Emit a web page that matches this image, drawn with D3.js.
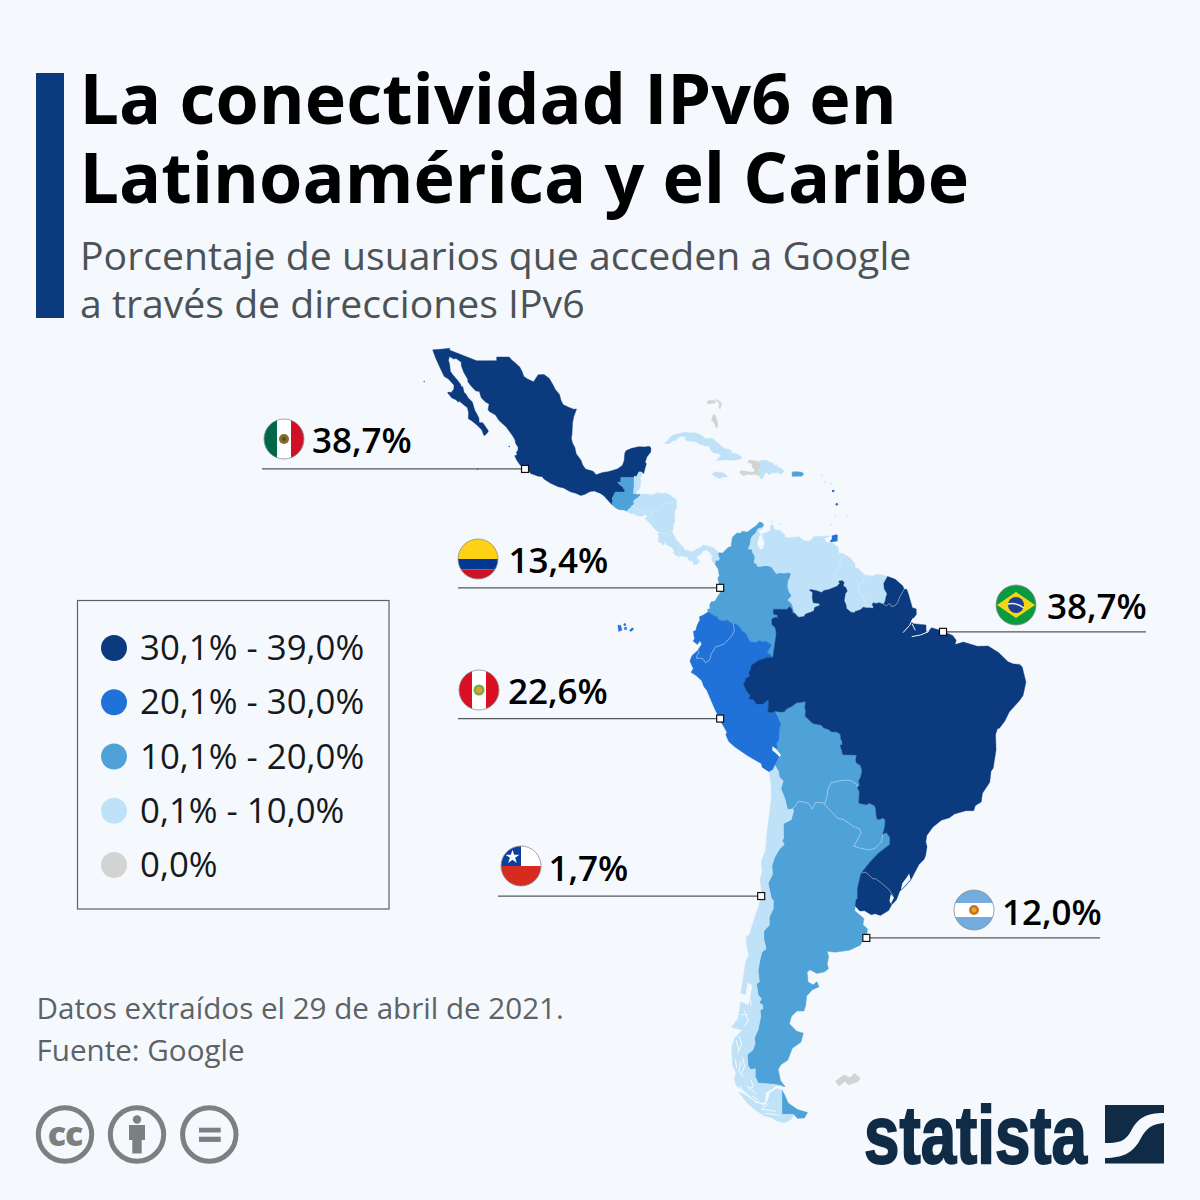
<!DOCTYPE html>
<html><head><meta charset="utf-8">
<script src="https://cdn.jsdelivr.net/npm/d3@7"></script>
<style>
html,body{margin:0;padding:0;background:#f5f9fd}
svg{display:block}
text{font-family:"Open Sans",sans-serif}
</style></head><body><svg id="c" width="1200" height="1200"></svg>
<script>
// ---- legend ----
const binLabels=["30,1% - 39,0%","20,1% - 30,0%","10,1% - 20,0%","0,1% - 10,0%","0,0%"];
const binColors=["#0b3a7e","#2172d8","#4fa2d8","#bfe2f8","#d3d3d3"];
// ---- callouts ----
const calloutNames=["México","Colombia","Perú","Chile","Argentina","Brasil"];
const calloutValues=["38,7%","13,4%","22,6%","1,7%","12,0%","38,7%"];
const calloutLon=[-104.3,-77.2,-77.2,-71.5,-56.9,-46.25];
const calloutLat=[18.85,4.35,-11.85,-32.8,-37.4,-1.1];
// ---- geography: lon/lat outlines ----
const mexico=[[-97.14,25.87],[-97.53,24.99],[-97.70,24.27],[-97.78,22.93],[-97.87,22.44],[-97.70,21.90],[-97.39,21.41],[-97.19,20.64],[-96.53,19.89],[-96.29,19.32],[-95.90,18.83],[-94.84,18.56],[-94.43,18.14],[-93.55,18.42],[-92.79,18.52],[-92.04,18.70],[-91.41,18.88],[-90.77,19.28],[-90.53,19.87],[-90.45,20.71],[-90.28,21.00],[-89.60,21.26],[-88.54,21.49],[-87.66,21.46],[-87.05,21.54],[-86.81,21.33],[-86.85,20.85],[-87.38,20.26],[-87.62,19.65],[-87.44,19.47],[-87.59,19.04],[-87.84,18.26],[-88.09,18.52],[-88.30,18.50],[-88.49,18.49],[-88.85,17.88],[-89.03,18.00],[-89.15,17.96],[-89.14,17.81],[-90.07,17.82],[-91.00,17.82],[-91.00,17.25],[-91.45,17.25],[-91.08,16.92],[-90.71,16.69],[-90.60,16.47],[-90.44,16.41],[-90.46,16.07],[-91.75,16.07],[-92.23,15.25],[-92.09,15.06],[-92.20,14.83],[-92.23,14.54],[-93.36,15.62],[-93.88,15.94],[-94.69,16.20],[-95.25,16.13],[-96.05,15.77],[-96.56,15.65],[-97.26,15.92],[-98.01,16.11],[-98.95,16.57],[-99.70,16.71],[-100.83,17.17],[-101.67,17.65],[-101.92,17.92],[-102.48,17.98],[-103.50,18.29],[-103.92,18.75],[-104.99,19.32],[-105.49,19.95],[-105.73,20.43],[-105.40,20.53],[-105.50,20.82],[-105.27,21.08],[-105.27,21.42],[-105.60,21.87],[-105.69,22.27],[-106.03,22.77],[-106.91,23.77],[-107.92,24.55],[-108.40,25.17],[-109.26,25.58],[-109.44,25.82],[-109.29,26.44],[-109.80,26.68],[-110.39,27.16],[-110.64,27.86],[-111.18,27.94],[-111.76,28.47],[-112.23,28.95],[-112.27,29.27],[-112.81,30.02],[-113.16,30.79],[-113.15,31.17],[-113.87,31.57],[-114.21,31.52],[-114.78,31.80],[-114.94,31.39],[-114.77,30.91],[-114.67,30.16],[-114.33,29.75],[-113.59,29.06],[-113.42,28.83],[-113.27,28.75],[-113.14,28.41],[-112.96,28.43],[-112.76,27.78],[-112.46,27.53],[-112.24,27.17],[-111.62,26.66],[-111.28,25.73],[-110.99,25.29],[-110.71,24.83],[-110.66,24.30],[-110.17,24.27],[-109.77,23.81],[-109.41,23.36],[-109.43,23.19],[-109.85,22.82],[-110.03,22.82],[-110.30,23.43],[-110.95,24.00],[-111.67,24.48],[-112.18,24.74],[-112.15,25.47],[-112.30,26.01],[-112.78,26.32],[-113.46,26.77],[-113.60,26.64],[-113.85,26.90],[-114.47,27.14],[-115.06,27.72],[-114.98,27.80],[-114.57,27.74],[-114.20,28.12],[-114.16,28.57],[-114.93,29.28],[-115.52,29.56],[-115.89,30.18],[-116.26,30.84],[-116.72,31.64],[-117.13,32.54],[-115.99,32.61],[-114.72,32.72],[-114.82,32.53],[-113.30,32.04],[-111.02,31.33],[-109.04,31.34],[-108.24,31.34],[-108.24,31.75],[-106.51,31.75],[-106.14,31.40],[-105.63,31.08],[-105.04,30.64],[-104.71,30.12],[-104.46,29.57],[-103.94,29.27],[-103.11,28.97],[-102.48,29.76],[-101.66,29.78],[-100.96,29.38],[-100.46,28.70],[-100.11,28.11],[-99.52,27.54],[-99.30,26.84],[-99.02,26.37],[-98.24,26.06],[-97.53,25.84],[-97.14,25.87]];
const guatemala=[[-90.10,13.74],[-90.61,13.91],[-91.23,13.93],[-91.69,14.13],[-92.23,14.54],[-92.20,14.83],[-92.09,15.06],[-92.23,15.25],[-91.75,16.07],[-90.46,16.07],[-90.44,16.41],[-90.60,16.47],[-90.71,16.69],[-91.08,16.92],[-91.45,17.25],[-91.00,17.25],[-91.00,17.82],[-90.07,17.82],[-89.14,17.81],[-89.15,17.02],[-89.23,15.89],[-88.93,15.89],[-88.60,15.71],[-88.52,15.86],[-88.23,15.73],[-88.68,15.35],[-89.15,15.07],[-89.23,14.87],[-89.15,14.68],[-89.35,14.42],[-89.59,14.36],[-89.53,14.24],[-89.72,14.13],[-90.06,13.88],[-90.10,13.74]];
const belize=[[-89.14,17.81],[-89.15,17.96],[-89.03,18.00],[-88.85,17.88],[-88.49,18.49],[-88.30,18.50],[-88.30,18.35],[-88.11,18.35],[-88.12,18.08],[-88.29,17.64],[-88.20,17.49],[-88.30,17.13],[-88.24,17.04],[-88.36,16.53],[-88.55,16.27],[-88.73,16.23],[-88.93,15.89],[-89.23,15.89],[-89.15,17.02],[-89.14,17.81]];
const honduras=[[-87.32,12.98],[-87.49,13.30],[-87.79,13.38],[-87.72,13.79],[-87.86,13.89],[-88.07,13.96],[-88.50,13.85],[-88.54,13.98],[-88.84,14.14],[-89.06,14.34],[-89.35,14.42],[-89.15,14.68],[-89.23,14.87],[-89.15,15.07],[-88.68,15.35],[-88.23,15.73],[-88.12,15.69],[-87.90,15.86],[-87.62,15.88],[-87.52,15.80],[-87.37,15.85],[-86.90,15.76],[-86.44,15.78],[-86.12,15.89],[-86.00,16.01],[-85.68,15.95],[-85.44,15.89],[-85.18,15.91],[-84.98,16.00],[-84.53,15.86],[-84.37,15.84],[-84.06,15.65],[-83.77,15.42],[-83.41,15.27],[-83.15,15.00],[-83.49,15.02],[-83.63,14.88],[-83.98,14.75],[-84.23,14.75],[-84.45,14.62],[-84.65,14.67],[-84.82,14.82],[-84.92,14.79],[-85.05,14.55],[-85.15,14.56],[-85.17,14.35],[-85.51,14.08],[-85.70,13.96],[-85.80,13.84],[-86.10,14.04],[-86.31,13.77],[-86.52,13.78],[-86.76,13.75],[-86.73,13.26],[-86.88,13.25],[-87.01,13.03],[-87.32,12.98]];
const salvador=[[-89.35,14.42],[-89.06,14.34],[-88.84,14.14],[-88.54,13.98],[-88.50,13.85],[-88.07,13.96],[-87.86,13.89],[-87.72,13.79],[-87.79,13.38],[-87.90,13.15],[-88.48,13.16],[-88.84,13.26],[-89.26,13.46],[-89.81,13.52],[-90.10,13.74],[-90.06,13.88],[-89.72,14.13],[-89.53,14.24],[-89.59,14.36],[-89.35,14.42]];
const nicaragua=[[-85.71,11.09],[-86.06,11.40],[-86.53,11.81],[-86.75,12.14],[-87.17,12.46],[-87.67,12.91],[-87.56,13.06],[-87.39,12.91],[-87.32,12.98],[-87.01,13.03],[-86.88,13.25],[-86.73,13.26],[-86.76,13.75],[-86.52,13.78],[-86.31,13.77],[-86.10,14.04],[-85.80,13.84],[-85.70,13.96],[-85.51,14.08],[-85.17,14.35],[-85.15,14.56],[-85.05,14.55],[-84.92,14.79],[-84.82,14.82],[-84.65,14.67],[-84.45,14.62],[-84.23,14.75],[-83.98,14.75],[-83.63,14.88],[-83.49,15.02],[-83.15,15.00],[-83.23,14.90],[-83.28,14.68],[-83.18,14.31],[-83.41,13.97],[-83.52,13.57],[-83.55,13.13],[-83.50,12.87],[-83.47,12.42],[-83.63,12.32],[-83.72,11.89],[-83.65,11.63],[-83.86,11.37],[-83.81,11.10],[-83.66,10.94],[-83.90,10.73],[-84.19,10.79],[-84.36,11.00],[-84.67,11.08],[-84.90,10.95],[-85.56,11.22],[-85.71,11.09]];
const costaRica=[[-82.97,8.23],[-83.51,8.45],[-83.71,8.66],[-83.60,8.83],[-83.63,9.05],[-83.91,9.29],[-84.30,9.49],[-84.65,9.62],[-84.71,9.91],[-84.98,10.09],[-84.91,9.80],[-85.11,9.56],[-85.34,9.83],[-85.66,9.93],[-85.80,10.13],[-85.79,10.44],[-85.66,10.75],[-85.94,10.90],[-85.71,11.09],[-85.56,11.22],[-84.90,10.95],[-84.67,11.08],[-84.36,11.00],[-84.19,10.79],[-83.90,10.73],[-83.66,10.94],[-83.40,10.40],[-83.02,9.99],[-82.55,9.57],[-82.93,9.48],[-82.93,9.07],[-82.72,8.93],[-82.87,8.81],[-82.83,8.63],[-82.91,8.42],[-82.97,8.23]];
const panama=[[-77.35,8.67],[-77.47,8.52],[-77.24,7.94],[-77.43,7.64],[-77.75,7.71],[-77.88,7.22],[-78.21,7.51],[-78.43,8.05],[-78.18,8.32],[-78.44,8.39],[-78.62,8.72],[-79.12,9.00],[-79.56,8.93],[-79.76,8.58],[-80.16,8.33],[-80.38,8.30],[-80.48,8.09],[-80.00,7.55],[-80.28,7.42],[-80.42,7.27],[-80.89,7.22],[-81.06,7.82],[-81.19,7.65],[-81.52,7.71],[-81.72,8.11],[-82.13,8.18],[-82.39,8.29],[-82.82,8.29],[-82.85,8.07],[-82.97,8.23],[-82.91,8.42],[-82.83,8.63],[-82.87,8.81],[-82.72,8.93],[-82.93,9.07],[-82.93,9.48],[-82.55,9.57],[-82.19,9.21],[-82.21,9.00],[-81.81,8.95],[-81.71,9.03],[-81.44,8.79],[-80.95,8.86],[-80.52,9.11],[-79.91,9.31],[-79.57,9.61],[-79.02,9.55],[-79.06,9.45],[-78.50,9.42],[-78.06,9.25],[-77.73,8.95],[-77.35,8.67]];
const colombia=[[-75.37,-0.15],[-75.80,0.08],[-76.29,0.42],[-76.58,0.26],[-77.42,0.40],[-77.67,0.83],[-77.86,0.81],[-78.86,1.38],[-78.99,1.69],[-78.62,1.77],[-78.66,2.27],[-78.43,2.63],[-77.93,2.70],[-77.51,3.33],[-77.13,3.85],[-77.50,4.09],[-77.31,4.67],[-77.53,5.58],[-77.32,5.85],[-77.48,6.69],[-77.88,7.22],[-77.75,7.71],[-77.43,7.64],[-77.24,7.94],[-77.47,8.52],[-77.35,8.67],[-76.84,8.64],[-76.09,9.34],[-75.67,9.44],[-75.66,9.77],[-75.48,10.62],[-74.91,11.08],[-74.28,11.10],[-74.20,11.31],[-73.41,11.23],[-72.63,11.73],[-72.24,11.96],[-71.75,12.44],[-71.40,12.38],[-71.14,12.11],[-71.33,11.78],[-71.97,11.61],[-72.23,11.11],[-72.61,10.82],[-72.91,10.45],[-73.03,9.74],[-73.30,9.15],[-72.79,9.09],[-72.66,8.63],[-72.44,8.41],[-72.36,8.00],[-72.48,7.63],[-72.44,7.42],[-72.20,7.34],[-71.96,6.99],[-70.67,7.09],[-70.09,6.96],[-69.39,6.10],[-68.99,6.21],[-68.27,6.15],[-67.70,6.27],[-67.34,6.10],[-67.52,5.56],[-67.74,5.22],[-67.82,4.50],[-67.62,3.84],[-67.34,3.54],[-67.30,3.32],[-67.81,2.82],[-67.45,2.60],[-67.18,2.25],[-66.88,1.25],[-67.07,1.13],[-67.26,1.72],[-67.54,2.04],[-67.87,1.69],[-69.82,1.71],[-69.80,1.09],[-69.22,0.99],[-69.25,0.60],[-69.45,0.71],[-70.02,0.54],[-70.02,-0.19],[-69.58,-0.55],[-69.42,-1.12],[-69.44,-1.56],[-69.89,-4.30],[-70.39,-3.77],[-70.69,-3.74],[-70.05,-2.73],[-70.81,-2.26],[-71.41,-2.34],[-71.77,-2.17],[-72.33,-2.43],[-73.07,-2.31],[-73.66,-1.26],[-74.12,-1.00],[-74.44,-0.53],[-75.11,-0.06],[-75.37,-0.15]];
const venezuela=[[-71.33,11.78],[-71.36,11.54],[-71.95,11.42],[-71.62,10.97],[-71.63,10.45],[-72.07,9.87],[-71.70,9.07],[-71.26,9.14],[-71.04,9.86],[-71.35,10.21],[-71.40,10.97],[-70.16,11.38],[-70.29,11.85],[-69.94,12.16],[-69.58,11.46],[-68.88,11.44],[-68.23,10.89],[-68.19,10.55],[-67.30,10.55],[-66.23,10.65],[-65.66,10.20],[-64.89,10.08],[-64.33,10.39],[-64.32,10.64],[-63.08,10.70],[-61.88,10.72],[-62.73,10.42],[-62.39,9.95],[-61.59,9.87],[-60.83,9.38],[-60.67,8.58],[-60.15,8.60],[-59.76,8.37],[-60.55,7.78],[-60.64,7.42],[-60.30,7.04],[-60.54,6.86],[-61.16,6.70],[-61.14,6.23],[-61.41,5.96],[-60.73,5.20],[-60.60,4.92],[-60.97,4.54],[-62.09,4.16],[-62.80,4.01],[-63.09,3.77],[-63.89,4.02],[-64.63,4.15],[-64.82,4.06],[-64.37,3.80],[-64.41,3.13],[-64.27,2.50],[-63.42,2.41],[-63.37,2.20],[-64.08,1.92],[-64.20,1.49],[-64.61,1.33],[-65.35,1.10],[-65.55,0.79],[-66.33,0.72],[-66.88,1.25],[-67.18,2.25],[-67.45,2.60],[-67.81,2.82],[-67.30,3.32],[-67.34,3.54],[-67.62,3.84],[-67.82,4.50],[-67.74,5.22],[-67.52,5.56],[-67.34,6.10],[-67.70,6.27],[-68.27,6.15],[-68.99,6.21],[-69.39,6.10],[-70.09,6.96],[-70.67,7.09],[-71.96,6.99],[-72.20,7.34],[-72.44,7.42],[-72.48,7.63],[-72.36,8.00],[-72.44,8.41],[-72.66,8.63],[-72.79,9.09],[-73.30,9.15],[-73.03,9.74],[-72.91,10.45],[-72.61,10.82],[-72.23,11.11],[-71.97,11.61],[-71.33,11.78]];
const guyana=[[-59.76,8.37],[-59.10,8.00],[-58.48,7.35],[-58.45,6.83],[-58.08,6.81],[-57.54,6.32],[-57.15,5.97],[-57.31,5.07],[-57.91,4.81],[-57.86,4.58],[-58.04,4.06],[-57.60,3.33],[-57.28,3.33],[-57.15,2.77],[-56.54,1.90],[-56.78,1.86],[-57.34,1.95],[-57.66,1.68],[-58.11,1.51],[-58.43,1.46],[-58.54,1.27],[-59.03,1.32],[-59.65,1.79],[-59.72,2.25],[-59.97,2.76],[-59.82,3.61],[-59.54,3.96],[-59.77,4.42],[-60.11,4.57],[-59.98,5.01],[-60.21,5.24],[-60.73,5.20],[-61.41,5.96],[-61.14,6.23],[-61.16,6.70],[-60.54,6.86],[-60.30,7.04],[-60.64,7.42],[-60.55,7.78],[-59.76,8.37]];
const suriname=[[-57.15,5.97],[-55.95,5.77],[-55.84,5.95],[-55.03,6.03],[-53.96,5.76],[-54.48,4.90],[-54.40,4.21],[-54.01,3.62],[-54.18,3.19],[-54.27,2.73],[-54.52,2.31],[-55.10,2.52],[-55.57,2.42],[-55.97,2.51],[-56.07,2.22],[-55.91,2.02],[-56.00,1.82],[-56.54,1.90],[-57.15,2.77],[-57.28,3.33],[-57.60,3.33],[-58.04,4.06],[-57.86,4.58],[-57.91,4.81],[-57.31,5.07],[-57.15,5.97]];
const frenchGuiana=[[-52.56,2.50],[-52.94,2.12],[-53.42,2.05],[-53.55,2.33],[-53.78,2.38],[-54.09,2.11],[-54.52,2.31],[-54.27,2.73],[-54.18,3.19],[-54.01,3.62],[-54.40,4.21],[-54.48,4.90],[-53.96,5.76],[-53.62,5.65],[-52.88,5.41],[-51.82,4.57],[-51.66,4.16],[-52.25,3.24],[-52.56,2.50]];
const ecuador=[[-80.30,-3.40],[-79.77,-2.66],[-79.99,-2.22],[-80.37,-2.69],[-80.97,-2.25],[-80.76,-1.97],[-80.93,-1.06],[-80.58,-0.91],[-80.40,-0.28],[-80.02,0.36],[-80.09,0.77],[-79.54,0.98],[-78.86,1.38],[-77.86,0.81],[-77.67,0.83],[-77.42,0.40],[-76.58,0.26],[-76.29,0.42],[-75.80,0.08],[-75.37,-0.15],[-75.23,-0.91],[-75.54,-1.56],[-76.64,-2.61],[-77.84,-3.00],[-78.45,-3.87],[-78.64,-4.55],[-79.21,-4.96],[-79.62,-4.45],[-80.03,-4.35],[-80.44,-4.43],[-80.47,-4.06],[-80.18,-3.82],[-80.30,-3.40]];
const peru=[[-69.59,-17.58],[-69.86,-18.09],[-70.37,-18.35],[-71.38,-17.77],[-71.46,-17.36],[-73.44,-16.36],[-75.24,-15.27],[-76.01,-14.65],[-76.42,-13.82],[-76.26,-13.54],[-77.11,-12.22],[-78.09,-10.38],[-79.04,-8.39],[-79.45,-7.93],[-79.76,-7.19],[-80.54,-6.54],[-81.25,-6.14],[-80.93,-5.69],[-81.41,-4.74],[-81.10,-4.04],[-80.30,-3.40],[-80.18,-3.82],[-80.47,-4.06],[-80.44,-4.43],[-80.03,-4.35],[-79.62,-4.45],[-79.21,-4.96],[-78.64,-4.55],[-78.45,-3.87],[-77.84,-3.00],[-76.64,-2.61],[-75.54,-1.56],[-75.23,-0.91],[-75.37,-0.15],[-75.11,-0.06],[-74.44,-0.53],[-74.12,-1.00],[-73.66,-1.26],[-73.07,-2.31],[-72.33,-2.43],[-71.77,-2.17],[-71.41,-2.34],[-70.81,-2.26],[-70.05,-2.73],[-70.69,-3.74],[-70.39,-3.77],[-69.89,-4.30],[-70.79,-4.25],[-70.93,-4.40],[-71.75,-4.59],[-72.89,-5.27],[-72.96,-5.74],[-73.22,-6.09],[-73.12,-6.63],[-73.72,-6.92],[-73.72,-7.34],[-73.99,-7.52],[-73.57,-8.42],[-73.02,-9.03],[-73.23,-9.46],[-72.56,-9.52],[-72.18,-10.05],[-71.30,-10.08],[-70.48,-9.49],[-70.55,-11.01],[-70.09,-11.12],[-69.53,-10.95],[-68.67,-12.56],[-68.88,-12.90],[-68.93,-13.60],[-68.95,-14.45],[-69.34,-14.95],[-69.16,-15.32],[-69.39,-15.66],[-68.96,-16.50],[-69.59,-17.58]];
const bolivia=[[-62.85,-22.03],[-63.99,-21.99],[-64.38,-22.80],[-64.96,-22.08],[-66.27,-21.83],[-67.11,-22.74],[-67.83,-22.87],[-68.22,-21.49],[-68.76,-20.37],[-68.44,-19.41],[-68.97,-18.98],[-69.10,-18.26],[-69.59,-17.58],[-68.96,-16.50],[-69.39,-15.66],[-69.16,-15.32],[-69.34,-14.95],[-68.95,-14.45],[-68.93,-13.60],[-68.88,-12.90],[-68.67,-12.56],[-69.53,-10.95],[-68.79,-11.04],[-68.27,-11.01],[-68.05,-10.71],[-67.17,-10.31],[-66.65,-9.93],[-65.34,-9.76],[-65.44,-10.51],[-65.32,-10.90],[-65.40,-11.57],[-64.32,-12.46],[-63.20,-12.63],[-62.80,-13.00],[-62.13,-13.20],[-61.71,-13.49],[-61.08,-13.48],[-60.50,-13.78],[-60.46,-14.35],[-60.26,-14.65],[-60.25,-15.08],[-60.54,-15.09],[-60.16,-16.26],[-58.24,-16.30],[-58.39,-16.88],[-58.28,-17.27],[-57.73,-17.55],[-57.50,-18.17],[-57.68,-18.96],[-57.95,-19.40],[-57.85,-19.97],[-58.17,-20.18],[-58.18,-19.87],[-59.12,-19.36],[-60.04,-19.34],[-61.79,-19.63],[-62.27,-20.51],[-62.29,-21.05],[-62.69,-22.25],[-62.85,-22.03]];
const paraguay=[[-62.69,-22.25],[-62.29,-21.05],[-62.27,-20.51],[-61.79,-19.63],[-60.04,-19.34],[-59.12,-19.36],[-58.18,-19.87],[-58.17,-20.18],[-57.87,-20.73],[-57.94,-22.09],[-56.88,-22.28],[-56.47,-22.09],[-55.80,-22.36],[-55.61,-22.66],[-55.52,-23.57],[-55.40,-23.96],[-55.03,-24.00],[-54.65,-23.84],[-54.29,-24.02],[-54.29,-24.57],[-54.43,-25.16],[-54.63,-25.74],[-54.79,-26.62],[-55.70,-27.39],[-56.49,-27.55],[-57.61,-27.40],[-58.62,-27.12],[-57.63,-25.60],[-57.78,-25.16],[-58.81,-24.77],[-60.03,-24.03],[-60.85,-23.88],[-62.69,-22.25]];
const argentina=[[-57.63,-30.22],[-57.87,-31.02],[-58.14,-32.04],[-58.13,-33.04],[-58.35,-33.26],[-58.43,-33.91],[-58.50,-34.43],[-57.23,-35.29],[-57.36,-35.98],[-56.74,-36.41],[-56.79,-36.90],[-57.75,-38.18],[-59.23,-38.72],[-61.24,-38.93],[-62.34,-38.83],[-62.13,-39.42],[-62.33,-40.17],[-62.15,-40.68],[-62.75,-41.03],[-63.77,-41.17],[-64.73,-40.80],[-65.12,-41.06],[-64.98,-42.06],[-64.30,-42.36],[-63.76,-42.04],[-63.46,-42.56],[-64.38,-42.87],[-65.18,-43.50],[-65.33,-44.50],[-65.57,-45.04],[-66.51,-45.04],[-67.29,-45.55],[-67.58,-46.30],[-66.60,-47.03],[-65.64,-47.24],[-65.99,-48.13],[-67.17,-48.70],[-67.82,-49.87],[-68.73,-50.26],[-69.14,-50.73],[-68.82,-51.77],[-68.15,-52.35],[-68.57,-52.30],[-69.50,-52.14],[-71.91,-52.01],[-72.33,-51.43],[-72.31,-50.68],[-72.98,-50.74],[-73.33,-50.38],[-73.42,-49.32],[-72.65,-48.88],[-72.33,-48.24],[-72.45,-47.74],[-71.92,-46.88],[-71.55,-45.56],[-71.66,-44.97],[-71.22,-44.78],[-71.33,-44.41],[-71.79,-44.21],[-71.46,-43.79],[-71.92,-43.41],[-72.15,-42.25],[-71.75,-42.05],[-71.92,-40.83],[-71.68,-39.81],[-71.41,-38.92],[-70.81,-38.55],[-71.12,-37.58],[-71.12,-36.66],[-70.36,-36.01],[-70.39,-35.17],[-69.82,-34.19],[-69.81,-33.27],[-70.07,-33.09],[-70.54,-31.37],[-69.92,-30.34],[-70.01,-29.37],[-69.66,-28.46],[-69.00,-27.52],[-68.30,-26.90],[-68.59,-26.51],[-68.39,-26.19],[-68.42,-24.52],[-67.33,-24.03],[-66.99,-22.99],[-67.11,-22.74],[-66.27,-21.83],[-64.96,-22.08],[-64.38,-22.80],[-63.99,-21.99],[-62.85,-22.03],[-62.69,-22.25],[-60.85,-23.88],[-60.03,-24.03],[-58.81,-24.77],[-57.78,-25.16],[-57.63,-25.60],[-58.62,-27.12],[-57.61,-27.40],[-56.49,-27.55],[-55.70,-27.39],[-54.79,-26.62],[-54.63,-25.74],[-54.13,-25.55],[-53.63,-26.12],[-53.65,-26.92],[-54.49,-27.47],[-55.16,-27.88],[-56.29,-28.85],[-57.63,-30.22]];
const argentinaFuego=[[-65.50,-55.20],[-66.45,-55.25],[-66.96,-54.90],[-67.56,-54.87],[-68.63,-54.87],[-68.63,-52.64],[-68.25,-53.10],[-67.75,-53.85],[-66.45,-54.45],[-65.05,-54.70],[-65.50,-55.20]];
const chile=[[-69.59,-17.58],[-69.10,-18.26],[-68.97,-18.98],[-68.44,-19.41],[-68.76,-20.37],[-68.22,-21.49],[-67.83,-22.87],[-67.11,-22.74],[-66.99,-22.99],[-67.33,-24.03],[-68.42,-24.52],[-68.39,-26.19],[-68.59,-26.51],[-68.30,-26.90],[-69.00,-27.52],[-69.66,-28.46],[-70.01,-29.37],[-69.92,-30.34],[-70.54,-31.37],[-70.07,-33.09],[-69.81,-33.27],[-69.82,-34.19],[-70.39,-35.17],[-70.36,-36.01],[-71.12,-36.66],[-71.12,-37.58],[-70.81,-38.55],[-71.41,-38.92],[-71.68,-39.81],[-71.92,-40.83],[-71.75,-42.05],[-72.15,-42.25],[-71.92,-43.41],[-71.46,-43.79],[-71.79,-44.21],[-71.33,-44.41],[-71.22,-44.78],[-71.66,-44.97],[-71.55,-45.56],[-71.92,-46.88],[-72.45,-47.74],[-72.33,-48.24],[-72.65,-48.88],[-73.42,-49.32],[-73.33,-50.38],[-72.98,-50.74],[-72.31,-50.68],[-72.33,-51.43],[-71.91,-52.01],[-69.50,-52.14],[-68.57,-52.30],[-69.46,-52.29],[-69.94,-52.54],[-70.85,-52.90],[-71.01,-53.83],[-71.43,-53.86],[-72.56,-53.53],[-73.70,-52.84],[-74.95,-52.26],[-75.26,-51.63],[-74.98,-51.04],[-75.48,-50.38],[-75.61,-48.67],[-75.18,-47.71],[-74.13,-46.94],[-75.64,-46.65],[-74.69,-45.76],[-74.35,-44.10],[-73.24,-44.45],[-72.72,-42.38],[-73.39,-42.12],[-73.70,-43.37],[-74.33,-43.22],[-74.02,-41.79],[-73.68,-39.94],[-73.22,-39.26],[-73.51,-38.28],[-73.59,-37.16],[-73.17,-37.12],[-72.55,-35.51],[-71.86,-33.91],[-71.44,-32.42],[-71.67,-30.92],[-71.37,-30.10],[-71.49,-28.86],[-70.91,-27.64],[-70.72,-25.71],[-70.40,-23.63],[-70.09,-21.39],[-70.16,-19.76],[-70.37,-18.35],[-69.86,-18.09],[-69.59,-17.58]];
const chileFuego=[[-68.63,-52.64],[-68.63,-54.87],[-67.56,-54.87],[-66.96,-54.90],[-67.29,-55.30],[-68.15,-55.61],[-68.64,-55.58],[-69.23,-55.50],[-69.96,-55.20],[-71.01,-55.05],[-72.26,-54.50],[-73.29,-53.96],[-74.66,-52.84],[-73.84,-53.05],[-72.43,-53.72],[-71.11,-54.07],[-70.59,-53.62],[-70.27,-52.93],[-69.35,-52.52],[-68.63,-52.64]];
const uruguay=[[-57.63,-30.22],[-56.98,-30.11],[-55.97,-30.88],[-55.60,-30.85],[-54.57,-31.49],[-53.79,-32.05],[-53.21,-32.73],[-53.65,-33.20],[-53.37,-33.77],[-53.81,-34.40],[-54.94,-34.95],[-55.67,-34.75],[-56.22,-34.86],[-57.14,-34.43],[-57.82,-34.46],[-58.43,-33.91],[-58.35,-33.26],[-58.13,-33.04],[-58.14,-32.04],[-57.87,-31.02],[-57.63,-30.22]];
const brazil=[[-53.37,-33.77],[-53.65,-33.20],[-53.21,-32.73],[-53.79,-32.05],[-54.57,-31.49],[-55.60,-30.85],[-55.97,-30.88],[-56.98,-30.11],[-57.63,-30.22],[-56.29,-28.85],[-55.16,-27.88],[-54.49,-27.47],[-53.65,-26.92],[-53.63,-26.12],[-54.13,-25.55],[-54.63,-25.74],[-54.43,-25.16],[-54.29,-24.57],[-54.29,-24.02],[-54.65,-23.84],[-55.03,-24.00],[-55.40,-23.96],[-55.52,-23.57],[-55.61,-22.66],[-55.80,-22.36],[-56.47,-22.09],[-56.88,-22.28],[-57.94,-22.09],[-57.87,-20.73],[-58.17,-20.18],[-57.85,-19.97],[-57.95,-19.40],[-57.68,-18.96],[-57.50,-18.17],[-57.73,-17.55],[-58.28,-17.27],[-58.39,-16.88],[-58.24,-16.30],[-60.16,-16.26],[-60.54,-15.09],[-60.25,-15.08],[-60.26,-14.65],[-60.46,-14.35],[-60.50,-13.78],[-61.08,-13.48],[-61.71,-13.49],[-62.13,-13.20],[-62.80,-13.00],[-63.20,-12.63],[-64.32,-12.46],[-65.40,-11.57],[-65.32,-10.90],[-65.44,-10.51],[-65.34,-9.76],[-66.65,-9.93],[-67.17,-10.31],[-68.05,-10.71],[-68.27,-11.01],[-68.79,-11.04],[-69.53,-10.95],[-70.09,-11.12],[-70.55,-11.01],[-70.48,-9.49],[-71.30,-10.08],[-72.18,-10.05],[-72.56,-9.52],[-73.23,-9.46],[-73.02,-9.03],[-73.57,-8.42],[-73.99,-7.52],[-73.72,-7.34],[-73.72,-6.92],[-73.12,-6.63],[-73.22,-6.09],[-72.96,-5.74],[-72.89,-5.27],[-71.75,-4.59],[-70.93,-4.40],[-70.79,-4.25],[-69.89,-4.30],[-69.44,-1.56],[-69.42,-1.12],[-69.58,-0.55],[-70.02,-0.19],[-70.02,0.54],[-69.45,0.71],[-69.25,0.60],[-69.22,0.99],[-69.80,1.09],[-69.82,1.71],[-67.87,1.69],[-67.54,2.04],[-67.26,1.72],[-67.07,1.13],[-66.88,1.25],[-66.33,0.72],[-65.55,0.79],[-65.35,1.10],[-64.61,1.33],[-64.20,1.49],[-64.08,1.92],[-63.37,2.20],[-63.42,2.41],[-64.27,2.50],[-64.41,3.13],[-64.37,3.80],[-64.82,4.06],[-64.63,4.15],[-63.89,4.02],[-63.09,3.77],[-62.80,4.01],[-62.09,4.16],[-60.97,4.54],[-60.60,4.92],[-60.73,5.20],[-60.21,5.24],[-59.98,5.01],[-60.11,4.57],[-59.77,4.42],[-59.54,3.96],[-59.82,3.61],[-59.97,2.76],[-59.72,2.25],[-59.65,1.79],[-59.03,1.32],[-58.54,1.27],[-58.43,1.46],[-58.11,1.51],[-57.66,1.68],[-57.34,1.95],[-56.78,1.86],[-56.54,1.90],[-56.00,1.82],[-55.91,2.02],[-56.07,2.22],[-55.97,2.51],[-55.57,2.42],[-55.10,2.52],[-54.52,2.31],[-54.09,2.11],[-53.78,2.38],[-53.55,2.33],[-53.42,2.05],[-52.94,2.12],[-52.56,2.50],[-52.25,3.24],[-51.66,4.16],[-51.32,4.20],[-51.07,3.65],[-50.51,1.90],[-49.97,1.74],[-49.95,1.05],[-50.70,0.22],[-50.39,-0.08],[-48.62,-0.24],[-48.58,-1.24],[-47.82,-0.58],[-46.57,-0.94],[-44.91,-1.55],[-44.42,-2.14],[-44.58,-2.69],[-43.42,-2.38],[-41.47,-2.91],[-39.98,-2.87],[-38.50,-3.70],[-37.22,-4.82],[-36.45,-5.11],[-35.60,-5.15],[-35.24,-5.46],[-34.90,-6.74],[-34.73,-7.34],[-35.13,-9.00],[-35.64,-9.65],[-37.05,-11.04],[-37.68,-12.17],[-38.42,-13.04],[-38.67,-13.06],[-38.95,-13.79],[-38.88,-15.67],[-39.16,-17.21],[-39.27,-17.87],[-39.58,-18.26],[-39.76,-19.60],[-40.77,-20.90],[-40.94,-21.94],[-41.75,-22.37],[-41.99,-22.97],[-43.07,-22.97],[-44.65,-23.35],[-45.35,-23.80],[-46.47,-24.09],[-47.65,-24.89],[-48.50,-25.88],[-48.64,-26.62],[-48.47,-27.18],[-48.66,-28.19],[-48.89,-28.67],[-49.59,-29.22],[-50.70,-30.98],[-51.58,-31.78],[-52.26,-32.25],[-52.71,-33.20],[-53.37,-33.77]];
const cuba=[[-82.27,23.19],[-81.40,23.12],[-80.62,23.11],[-79.68,22.77],[-79.28,22.40],[-78.35,22.51],[-77.99,22.28],[-77.15,21.66],[-76.52,21.21],[-76.19,21.22],[-75.60,21.02],[-75.67,20.74],[-74.93,20.69],[-74.18,20.28],[-74.30,20.05],[-74.96,19.92],[-75.63,19.87],[-76.32,19.95],[-77.76,19.86],[-77.09,20.41],[-77.49,20.67],[-78.14,20.74],[-78.48,21.03],[-78.72,21.60],[-79.29,21.56],[-80.22,21.83],[-80.52,22.04],[-81.82,22.19],[-82.17,22.39],[-81.80,22.64],[-82.78,22.69],[-83.49,22.17],[-83.91,22.15],[-84.05,21.91],[-84.55,21.80],[-84.97,21.90],[-84.45,22.20],[-84.23,22.57],[-83.78,22.79],[-83.27,22.98],[-82.51,23.08],[-82.27,23.19]];
const jamaica=[[-77.57,18.49],[-76.90,18.40],[-76.37,18.16],[-76.20,17.89],[-76.90,17.87],[-77.21,17.70],[-77.77,17.86],[-78.34,18.23],[-77.80,18.52],[-77.57,18.49]];
const haiti=[[-73.19,19.92],[-72.58,19.87],[-71.71,19.71],[-71.62,19.17],[-71.70,18.79],[-71.95,18.62],[-71.69,18.32],[-71.71,18.04],[-72.37,18.21],[-72.84,18.15],[-73.45,18.22],[-73.92,18.03],[-74.46,18.34],[-74.37,18.66],[-73.45,18.53],[-72.69,18.45],[-72.33,18.67],[-72.79,19.10],[-72.78,19.48],[-73.42,19.64],[-73.19,19.92]];
const dominicana=[[-71.71,19.71],[-71.59,19.88],[-70.81,19.88],[-70.21,19.62],[-69.95,19.65],[-69.77,19.29],[-69.22,19.31],[-69.25,19.02],[-68.81,18.98],[-68.32,18.61],[-68.69,18.21],[-69.16,18.42],[-69.62,18.38],[-69.95,18.43],[-70.13,18.25],[-70.52,18.18],[-70.67,18.43],[-71.00,18.28],[-71.40,17.60],[-71.66,17.76],[-71.71,18.04],[-71.69,18.32],[-71.95,18.62],[-71.70,18.79],[-71.62,19.17],[-71.71,19.71]];
const puertoRico=[[-65.59,18.23],[-65.85,17.98],[-66.60,17.98],[-67.18,17.95],[-67.24,18.37],[-67.10,18.52],[-66.28,18.51],[-65.77,18.43],[-65.59,18.23]];
const trinidad=[[-61.68,10.76],[-61.11,10.89],[-60.90,10.86],[-60.94,10.11],[-61.77,10.00],[-61.95,10.09],[-61.66,10.37],[-61.68,10.76]];
const andros=[[-78.19,25.21],[-77.89,25.17],[-77.54,24.34],[-77.53,23.76],[-77.78,23.71],[-78.03,24.29],[-78.41,24.58],[-78.19,25.21]];
const grandBahama=[[-78.98,26.79],[-78.51,26.87],[-77.85,26.84],[-77.82,26.58],[-78.91,26.42],[-78.98,26.79]];
const abaco=[[-77.79,27.04],[-77.00,26.59],[-77.17,25.88],[-77.36,26.01],[-77.34,26.53],[-77.79,26.93],[-77.79,27.04]];
const falklands=[[-61.20,-51.85],[-60.00,-51.25],[-59.15,-51.50],[-58.55,-51.10],[-57.75,-51.55],[-58.05,-51.90],[-59.40,-52.20],[-59.85,-51.85],[-60.70,-52.30],[-61.20,-51.85]];
const isabela=[[-91.40,-0.25],[-91.00,-0.30],[-90.85,-0.90],[-91.30,-1.05],[-91.40,-0.25]];
const santaCruz=[[-90.50,-0.55],[-90.20,-0.50],[-90.20,-0.85],[-90.50,-0.80],[-90.50,-0.55]];
// name, legend bin index, rings
const countries=[
 ["México",0,[mexico]],["Guatemala",2,[guatemala]],["Belice",3,[belize]],["Honduras",3,[honduras]],["El Salvador",3,[salvador]],
 ["Nicaragua",3,[nicaragua]],["Costa Rica",3,[costaRica]],["Panamá",3,[panama]],["Colombia",2,[colombia]],["Venezuela",3,[venezuela]],
 ["Guyana",3,[guyana]],["Surinam",3,[suriname]],["Guayana Francesa",0,[frenchGuiana]],["Ecuador",1,[ecuador,isabela,santaCruz]],["Perú",1,[peru]],
 ["Bolivia",2,[bolivia]],["Paraguay",2,[paraguay]],["Argentina",2,[argentina,argentinaFuego]],["Chile",3,[chile,chileFuego]],["Uruguay",0,[uruguay]],
 ["Brasil",0,[brazil]],["Cuba",3,[cuba]],["Jamaica",3,[jamaica]],["Haití",4,[haiti]],["República Dominicana",3,[dominicana]],
 ["Puerto Rico",2,[puertoRico]],["Trinidad y Tobago",1,[trinidad]],["Bahamas",4,[andros,grandBahama,abaco]],["Islas Malvinas",4,[falklands]]
];
// small islands: lon, lat, bin, radius class
const islets=[[-61.5,16.2,1],[-61.0,14.6,1],[-61.2,13.2,3],[-59.55,13.15,3],[-61.75,12.1,3],[-62.7,17.3,3],[-63.1,18.1,3],[-61.8,17.1,3],[-69.95,12.5,3],[-68.95,12.2,3],[-118.3,29.0,1],[-110.9,18.8,1],[-106.5,21.5,1],[-89.6,-0.9,1],[-90.45,-0.2,1],[-89.4,-0.75,1]];
// water inside the land: lakes and inlets
const lakes=[
 [[-69.95,-15.25],[-69.45,-15.55],[-68.75,-16.30],[-68.95,-16.55],[-69.45,-16.10],[-69.95,-15.75],[-69.95,-15.25]],
 [[-50.95,-30.25],[-50.75,-30.95],[-51.70,-31.80],[-52.10,-32.10],[-51.90,-31.35],[-51.25,-30.65],[-50.95,-30.25]],
 [[-53.50,-32.60],[-53.05,-32.95],[-53.45,-33.60],[-53.65,-33.45],[-53.60,-32.95],[-53.50,-32.60]],
 [[-71.75,10.75],[-71.45,10.80],[-71.05,10.00],[-71.45,9.15],[-71.85,9.35],[-71.95,10.05],[-71.75,10.75]]
];
// fjords and river mouths
const inlets=[
 [[-51.80,-1.20],[-50.90,-0.30],[-50.40,0.60]],[[-50.60,-1.70],[-49.40,-1.50],[-48.30,-1.10],[-48.00,-0.25]],
 [[-50.10,-0.90],[-50.55,-0.10]],
 [[-72.90,-42.50],[-73.10,-43.60],[-72.90,-44.50]],[[-73.80,-45.00],[-73.30,-46.00],[-73.90,-46.60]],[[-74.60,-47.50],[-74.20,-48.30],[-74.80,-49.20]],
 [[-74.30,-50.00],[-74.60,-50.90],[-73.90,-51.50]],[[-74.10,-49.60],[-73.80,-50.40],[-74.20,-51.10]],[[-73.60,-52.20],[-72.90,-52.60],[-72.20,-53.00]],
 [[-72.80,-53.20],[-71.90,-53.60]],[[-70.50,-53.90],[-71.50,-54.40],[-69.50,-54.60]],[[-70.60,-53.10],[-70.90,-53.90],[-72.30,-53.80]],
 [[-75.00,-47.90],[-74.60,-48.90]],[[-75.10,-49.80],[-74.90,-50.60]],[[-73.40,-45.40],[-74.30,-45.40]],[[-72.90,-51.70],[-72.60,-52.40],[-73.30,-52.50]],
 [[-74.50,-52.30],[-73.40,-53.20]],[[-71.00,-54.80],[-69.00,-54.95]]
];
// ---- scales ----
const bg="#f5f9fd";
const miller=lat=>1.25*Math.log(Math.tan(Math.PI/4+0.4*lat*Math.PI/180));
const xLon=d3.scaleLinear().domain([-120,-30]).range([412,1060]);
const yMil=d3.scaleLinear().domain([-1.2,0,0.35,0.6]).range([1175,623,461,344.5]);
const proj=d3.geoTransform({point(lon,lat){this.stream.point(xLon(lon),yMil(miller(lat)));}});
const geo=d3.geoPath(proj);
const binColor=d3.scaleOrdinal(binLabels.map((d,i)=>i),binColors);
const legendY=d3.scalePoint().domain(binLabels).range([648,865]);

const svg=d3.select("#c");
svg.append("rect").attr("width",1200).attr("height",1200).attr("fill",bg);
// header
svg.append("rect").attr("x",36).attr("y",73).attr("width",28).attr("height",245).attr("fill","#0b3a7e");
const titleLines=["La conectividad IPv6 en","Latinoamérica y el Caribe"];
svg.selectAll(".t").data(titleLines).join("text").attr("x",79.5).attr("y",(d,i)=>124+i*78.5)
  .attr("font-size",70).attr("font-weight",700).attr("fill","#000").text(d=>d);
const subtitleLines=["Porcentaje de usuarios que acceden a Google","a través de direcciones IPv6"];
svg.selectAll(".s").data(subtitleLines).join("text").attr("x",80).attr("y",(d,i)=>270+i*48)
  .attr("font-size",39.2).attr("fill","#4d5256").text(d=>d);

// map
const map=svg.append("g");
const features=countries.map(([name,bin,rings])=>({type:"Feature",properties:{name,bin},geometry:{type:"MultiPolygon",coordinates:rings.map(r=>[r])}}));
map.selectAll("path.c").data(features).join("path").attr("class","c").attr("d",geo)
  .attr("fill",d=>binColor(d.properties.bin)).attr("stroke",d=>binColor(d.properties.bin)).attr("stroke-width",0.4);
// pale borders: edges shared by two countries of the same legend bin
const edgeSeen=new Map();const paleBorders=[];
countries.forEach(([n,bin,rings])=>rings.forEach(r=>d3.pairs(r).forEach(([a,b])=>{
  const k=[a.join(),b.join()].sort().join("|");
  if(edgeSeen.has(k)&&edgeSeen.get(k)[0]!==n&&edgeSeen.get(k)[1]===bin)paleBorders.push([a,b]);
  edgeSeen.set(k,[n,bin]);
})));
map.append("path").datum({type:"MultiLineString",coordinates:paleBorders}).attr("d",geo)
  .attr("fill","none").attr("stroke","#e4f1fb").attr("stroke-width",0.7).attr("stroke-opacity",0.6);
map.selectAll("path.l").data(lakes).join("path").attr("class","l")
  .attr("d",r=>geo({type:"Polygon",coordinates:[r]})).attr("fill",bg);
map.append("path").datum({type:"MultiLineString",coordinates:inlets}).attr("d",geo)
  .attr("fill","none").attr("stroke",bg).attr("stroke-width",1);
map.selectAll("circle.i").data(islets).join("circle").attr("class","i")
  .attr("cx",d=>xLon(d[0])).attr("cy",d=>yMil(miller(d[1]))).attr("r",d=>d[0]<-100?0.8:1.3)
  .attr("fill",d=>binColor(d[2])).attr("opacity",d=>d[2]==3?.55:1);

// legend
svg.append("rect").attr("x",77.5).attr("y",600.5).attr("width",311.5).attr("height",308.5)
  .attr("fill","none").attr("stroke","#5d6266").attr("stroke-width",1.2);
const lg=svg.selectAll(".lg").data(binLabels).join("g").attr("transform",d=>`translate(0,${legendY(d)})`);
lg.append("circle").attr("cx",114).attr("r",13).attr("fill",(d,i)=>binColor(i));
lg.append("text").attr("x",140).attr("y",12).attr("font-size",34.8).attr("fill","#16191b").text(d=>d);

// flags
function flagBase(id,cx,cy){
  const g=svg.append("g").attr("transform",`translate(${cx},${cy})`);
  g.append("clipPath").attr("id",id).append("circle").attr("r",20);
  const inner=g.append("g").attr("clip-path",`url(#${id})`);
  return {g,inner};
}
const band=(s,x,y,w,h,f)=>s.append("rect").attr("x",x).attr("y",y).attr("width",w).attr("height",h).attr("fill",f);
const flagDraw={
 "México":s=>{band(s,-21,-21,14,42,"#006847");band(s,-7,-21,14,42,"#fff");band(s,7,-21,14,42,"#ce1126");
   s.append("circle").attr("r",5).attr("fill","#8c6a2a");s.append("circle").attr("r",2).attr("fill","#3a5a2a");},
 "Colombia":s=>{band(s,-21,-21,42,21,"#fcd116");band(s,-21,0,42,10.5,"#003893");band(s,-21,10.5,42,11,"#ce1126");},
 "Perú":s=>{band(s,-21,-21,14,42,"#d91023");band(s,-7,-21,14,42,"#fff");band(s,7,-21,14,42,"#d91023");
   s.append("circle").attr("r",5.5).attr("fill","#6fae4a");s.append("circle").attr("r",3).attr("fill","#e0a030");},
 "Chile":s=>{band(s,-21,-21,42,21,"#fff");band(s,-21,-21,21,21,"#0b3fa0");band(s,-21,0,42,21,"#d72b1f");
   s.append("path").attr("transform","translate(-8.5,-9)").attr("d",d3.symbol(d3.symbolStar,60)).attr("fill","#fff");},
 "Argentina":s=>{band(s,-21,-21,42,42,"#74acdf");band(s,-21,-7,42,14,"#fff");
   s.append("circle").attr("r",5).attr("fill","#c9781f");s.append("circle").attr("r",2.3).attr("fill","#e5a648");},
 "Brasil":s=>{band(s,-21,-21,42,42,"#0a9b3e");
   s.append("path").attr("d",d3.line()([[-19,0],[0,-13],[19,0],[0,13]])+"Z").attr("fill","#f7d417");
   s.append("circle").attr("r",8).attr("fill","#1c3f94");
   s.append("path").attr("d","M-8,-1Q0,-3 8,3").attr("stroke","#e9efe0").attr("stroke-width",1.4).attr("fill","none");}
};
// flag centre, text x and baseline, line end: callout layout
const layout=[[284,439,312,453,262],[478,559,508.5,572.5,458],[479,690,508,703.5,458],[521,866,548.5,880.5,498],[974,910,1002,924.5,1100],[1016,605,1047,618.5,1146]];
calloutNames.forEach((n,i)=>{
  const [fx,fy,tx,ty,lineEnd]=layout[i];
  const ax=xLon(calloutLon[i]),ay=yMil(miller(calloutLat[i]));
  svg.append("line").attr("x1",lineEnd).attr("x2",ax).attr("y1",ay).attr("y2",ay).attr("stroke","#55595c").attr("stroke-width",1.3);
  svg.append("rect").attr("x",ax-3.5).attr("y",ay-3.5).attr("width",7).attr("height",7).attr("fill","#fff").attr("stroke","#111").attr("stroke-width",1.2);
  const {g,inner}=flagBase("f"+i,fx,fy);
  flagDraw[n](inner);
  g.append("circle").attr("r",20).attr("fill","none").attr("stroke","#8f8f8f").attr("stroke-width",0.8);
  svg.append("text").attr("x",tx).attr("y",ty).attr("font-size",35).attr("font-weight",600).attr("fill","#000").text(calloutValues[i]);
});

// footer
const footerLines=["Datos extraídos el 29 de abril de 2021.","Fuente: Google"];
svg.selectAll(".ft").data(footerLines).join("text").attr("x",36.5).attr("y",(d,i)=>1019+i*42)
  .attr("font-size",29.6).attr("fill","#5c6266").text(d=>d);
// licence icons
const ccX=[65,137,209.3];const grey="#7b8180";
ccX.forEach(x=>svg.append("circle").attr("cx",x).attr("cy",1134.5).attr("r",26.7).attr("fill","none").attr("stroke",grey).attr("stroke-width",5));
svg.append("text").attr("x",65).attr("y",1146).attr("text-anchor","middle").attr("font-size",34).attr("font-weight",800).attr("letter-spacing",-1).attr("fill",grey).text("cc");
svg.append("circle").attr("cx",137).attr("cy",1119.5).attr("r",4.2).attr("fill",grey);
band(svg,129,1125,16,15,grey);band(svg,132.3,1135,9.4,18.5,grey);
band(svg,199,1127.7,21.7,4.8,grey);band(svg,199,1136.7,21.7,5.2,grey);
// statista logo
const navy="#0f2b46";
svg.append("text").attr("x",864).attr("y",1162.5).attr("font-size",82).attr("font-weight",700)
  .attr("textLength",223).attr("lengthAdjust","spacingAndGlyphs").attr("fill",navy).attr("stroke",navy).attr("stroke-width",2)
  .style("font-family","'Liberation Sans',sans-serif").text("statista");
svg.append("path").attr("fill",navy).attr("d","M1105,1105H1164V1113C1146,1113 1138,1118 1131,1131C1125,1142 1118,1143 1105,1143Z");
svg.append("path").attr("fill",navy).attr("d","M1164,1123V1163.5H1105V1158C1124,1158 1134,1152 1141,1138C1147,1127 1153,1124 1164,1123Z");
</script></body></html>
